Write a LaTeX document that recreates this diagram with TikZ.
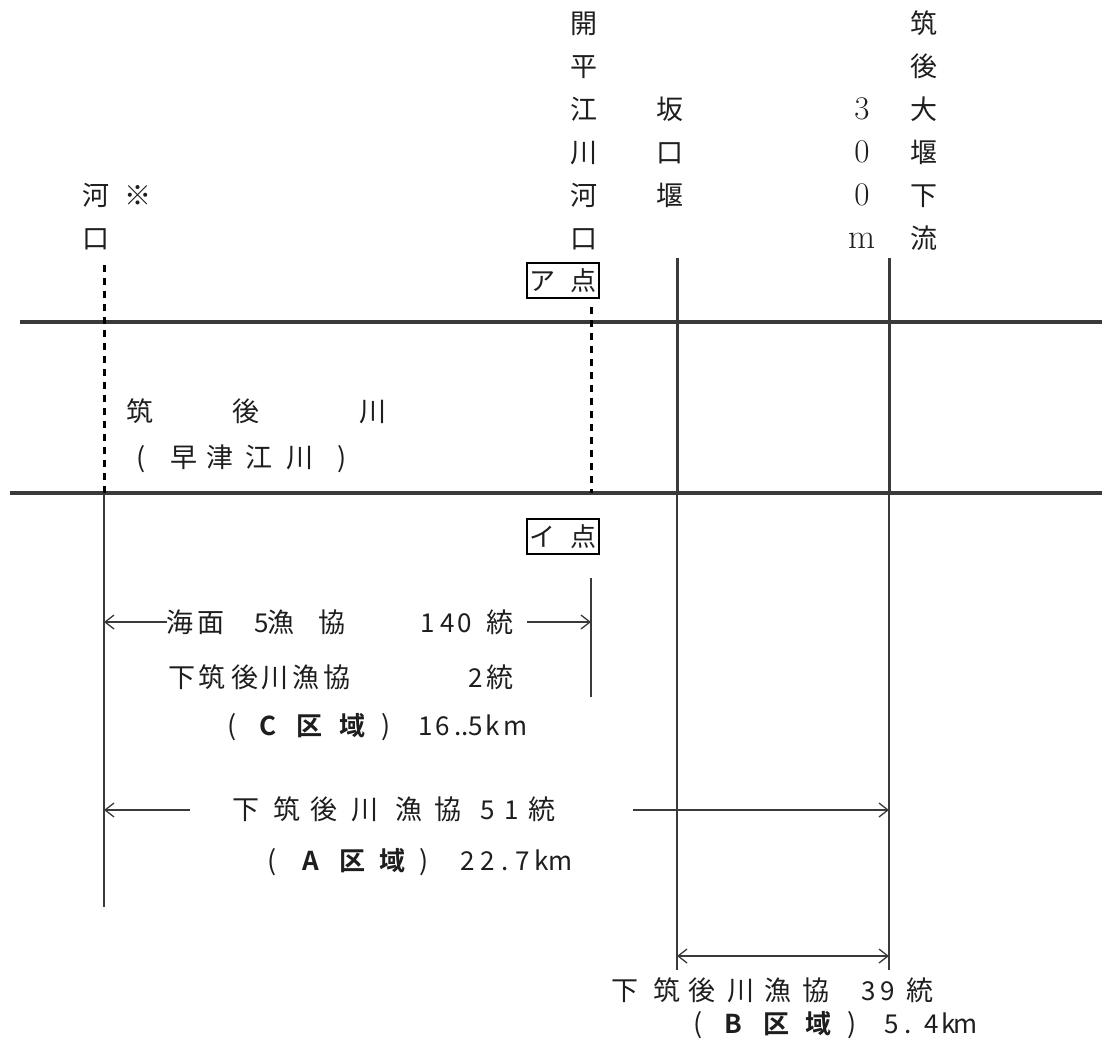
\documentclass[tikz,border=0pt]{standalone}
\usepackage{fontspec}
\usetikzlibrary{arrows.meta}
\newfontfamily\jp[BoldFont={Noto Sans CJK JP Bold}]{Noto Sans CJK JP}
\definecolor{ink}{HTML}{3A3A3A}
\definecolor{txt}{HTML}{1E1E1E}
\tikzset{
  jc/.style={font=\jp\fontsize{27}{27}\selectfont, inner sep=0pt, text height=23.5pt, text depth=3.5pt, text=txt},
  jd/.style={font=\jp\fontsize{26}{26}\selectfont, inner sep=0pt, text height=23.5pt, text depth=3.5pt, text=txt},
  jb/.style={font=\jp\bfseries\fontsize{26}{26}\selectfont, inner sep=0pt, text height=23.5pt, text depth=3.5pt, text=txt},
  lm/.style={font=\fontsize{33}{33}\selectfont, inner sep=0pt, text height=23.5pt, text depth=3.5pt, text=txt},
  lmm/.style={font=\fontsize{35}{35}\selectfont, inner sep=0pt, text height=23.5pt, text depth=3.5pt, text=txt},
  river/.style={line width=3.5pt, draw=ink},
  weir/.style={line width=3pt, draw=ink},
  mouth/.style={line width=3pt, dash pattern=on 7pt off 6pt, draw=black},
  thin/.style={line width=1.3pt, draw=ink},
  tip/.style={-{Straight Barb[length=9pt,width=14pt,line width=1.3pt]}},
  both/.style={{Straight Barb[length=9pt,width=14pt,line width=1.3pt]}-{Straight Barb[length=9pt,width=14pt,line width=1.3pt]}},
  ptbox/.style={draw=black, line width=1.3pt, minimum width=72pt, minimum height=35pt, inner sep=0pt, font=\jp\fontsize{26}{26}\selectfont, text=txt}
}
\begin{document}
\begin{tikzpicture}[x=1pt,y=-1pt]
\useasboundingbox[fill=white] (0,0) rectangle (1102,1045);

% river banks
\coordinate (bankTopL) at (20,322);  \coordinate (bankTopR) at (1102,322);
\coordinate (bankBotL) at (10,493);  \coordinate (bankBotR) at (1102,493);
\draw[river] (bankTopL) -- (bankTopR);
\draw[river] (bankBotL) -- (bankBotR);

% river mouth (left)
\coordinate (mouthTop) at (104,265); \coordinate (mouthBot) at (104,493); \coordinate (mouthEnd) at (104,907);
\draw[mouth] (mouthTop) -- (mouthBot);
\draw[thin] (mouthBot) -- (mouthEnd);

% points A / I
\node[ptbox] (pA) at (563,280.5) {ア\hspace{15pt}点};
\node[ptbox] (pI) at (563,536.5) {イ\hspace{15pt}点};
\coordinate (kaiTop) at (591,307); \coordinate (kaiBot) at (591,493);
\draw[mouth] (kaiTop) -- (kaiBot);
\coordinate (cTop) at (591,578); \coordinate (cBot) at (591,697);
\draw[thin] (cTop) -- (cBot);

% weirs
\coordinate (sakaTop) at (677,258); \coordinate (sakaMid) at (677,493); \coordinate (sakaBot) at (677,970);
\draw[weir] (sakaTop) -- (sakaMid); \draw[thin] (sakaMid) -- (sakaBot);
\coordinate (daiTop) at (889,258); \coordinate (daiMid) at (889,493); \coordinate (daiBot) at (889,970);
\draw[weir] (daiTop) -- (daiMid); \draw[thin] (daiMid) -- (daiBot);

% top column labels
\foreach \y/\ch [count=\i] in {23/開,66/平,109/江,152/川,195/河,238/口}
  \node[jc] (kai\i) at (584,\y) {\ch};
\foreach \y/\ch [count=\i] in {109/坂,152/口,195/堰}
  \node[jc] (saka\i) at (670,\y) {\ch};
\foreach \y/\ch [count=\i] in {109/3,152/0,195/0}
  \node[lm] (dist\i) at (862,\y) {\ch};
\node[lmm] (dist4) at (862,238) {m};
\foreach \y/\ch [count=\i] in {23/筑,66/後,109/大,152/堰,195/下,238/流}
  \node[jc] (dai\i) at (924,\y) {\ch};
\node[jc] (ka1) at (96,195) {河};
\node[jc] (kome) at (138,195) {※};
\node[jc] (ka2) at (96,238) {口};

% river name
\foreach \x/\ch in {140/筑,246/後,373/川}
  \node[jc] (rv\x) at (\x,411) {\ch};
\foreach \x/\ch in {141/(,184/早,220/津,259/江,300/川,342/)}
  \node[jc] (rs\x) at (\x,457) {\ch};

% C zone
\coordinate (c1L) at (104,622); \coordinate (c1Ls) at (167,622);
\coordinate (c1R) at (591,622); \coordinate (c1Rs) at (527,622);
\draw[thin,tip] (c1Ls) -- (c1L);
\draw[thin,tip] (c1Rs) -- (c1R);
\foreach \x/\ch/\st in {180/海/jc,211/面/jc,262/5/jd,281/漁/jc,332/協/jc,428/1/jd,448/4/jd,465/0/jd,500/統/jc}
  \node[\st] (ca\x) at (\x,622) {\ch};
\foreach \x/\ch/\st in {182/下/jc,212/筑/jc,245/後/jc,275/川/jc,306/漁/jc,337/協/jc,476/2/jd,500/統/jc}
  \node[\st] (cb\x) at (\x,677) {\ch};
\foreach \x/\ch/\st in {232/(/jc,268/C/jb,309/区/jb,352/域/jb,386/)/jc,426/1/jd,443/6/jd,458/./jd,465/./jd,476/5/jd,493/k/jd,516/m/jd}
  \node[\st] (cc\x) at (\x,725) {\ch};

% A zone
\coordinate (a1L) at (104,810); \coordinate (a1Ls) at (190,810);
\coordinate (a1R) at (889,810); \coordinate (a1Rs) at (633,810);
\draw[thin,tip] (a1Ls) -- (a1L);
\draw[thin,tip] (a1Rs) -- (a1R);
\foreach \x/\ch/\st in {246/下/jc,287/筑/jc,324/後/jc,365/川/jc,409/漁/jc,448/協/jc,488/5/jd,512/1/jd,542/統/jc}
  \node[\st] (aa\x) at (\x,809) {\ch};
\foreach \x/\ch/\st in {272/(/jc,311/A/jb,352/区/jb,392/域/jb,424/)/jc,468/2/jd,488/2/jd,505/./jd,523/7/jd,542/k/jd,561/m/jd}
  \node[\st] (ab\x) at (\x,860) {\ch};

% B zone
\coordinate (b1L) at (677,956); \coordinate (b1R) at (889,956);
\draw[thin,both] (b1L) -- (b1R);
\foreach \x/\ch/\st in {625/下/jc,667/筑/jc,702/後/jc,741/川/jc,778/漁/jc,816/協/jc,869/3/jd,888/9/jd,920/統/jc}
  \node[\st] (ba\x) at (\x,990) {\ch};
\foreach \x/\ch/\st in {698/(/jc,733/B/jb,776/区/jb,818/域/jb,852/)/jc,892/5/jd,908/./jd,932/4/jd,949/k/jd,966/m/jd}
  \node[\st] (bb\x) at (\x,1023) {\ch};
\end{tikzpicture}
\end{document}
